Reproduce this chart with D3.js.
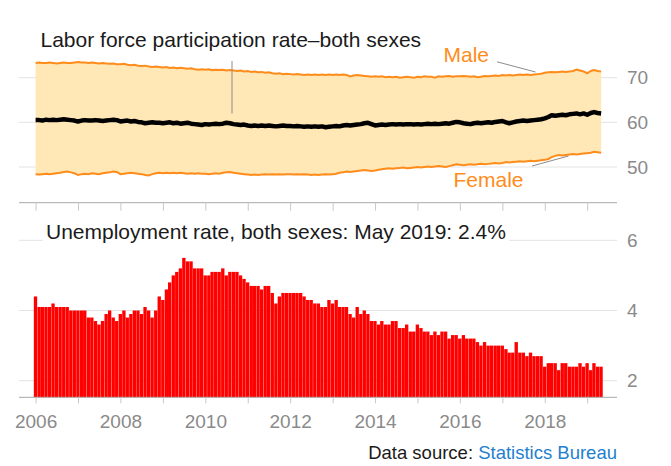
<!DOCTYPE html>
<html>
<head>
<meta charset="utf-8">
<script src="https://cdn.jsdelivr.net/npm/d3@7"></script>
<style>
body { margin: 0; background: #fff; }
svg { display: block; font-family: "Liberation Sans", Arial, sans-serif; }
</style>
</head>
<body>
<script>
//place script in anon function
(function(){

// monthly series, Jan 2006 - May 2019
var startMonth = new Date(2006, 0, 1),
    endMonth = new Date(2019, 5, 1);

// labor force participation rate, male (%)
var maleRate = [
    73.3, 73.4, 73.3, 73.3, 73.4, 73.3, 73.2, 73.3, 73.4, 73.3, 73.3, 73.4,
    73.5, 73.4, 73.4, 73.3, 73.4, 73.3, 73.2, 73.3, 73.2, 73.1, 73.2, 73.0,
    73.0, 73.1, 72.9, 72.8, 72.9, 72.7, 72.6, 72.7, 72.5, 72.4, 72.5, 72.4,
    72.3, 72.4, 72.2, 72.3, 72.1, 72.2, 72.1, 72.0, 72.1, 71.9, 71.8, 71.9,
    71.8, 71.9, 71.7, 71.8, 71.7, 71.8, 71.6, 71.7, 71.6, 71.5, 71.6, 71.4,
    71.5, 71.3, 71.4, 71.2, 71.3, 71.1, 71.2, 71.0, 70.9, 71.0, 70.8, 70.9,
    70.8, 70.7, 70.8, 70.7, 70.6, 70.7, 70.6, 70.7, 70.6, 70.7, 70.6, 70.7,
    70.6, 70.7, 70.6, 70.7, 70.6, 70.3, 70.5, 70.6, 70.5, 70.4, 70.3, 70.2,
    70.3, 70.2, 70.3, 70.1, 70.2, 70.1, 70.2, 70.0, 70.1, 70.2, 70.1, 70.0,
    70.2, 70.1, 70.3, 70.2, 70.2, 70.0, 70.3, 70.2, 70.3, 70.4, 70.2, 70.3,
    70.3, 70.4, 70.3, 70.2, 70.3, 70.1, 70.2, 70.4, 70.3, 70.4, 70.5, 70.4,
    70.6, 70.5, 70.6, 70.5, 70.6, 70.7, 70.6, 70.7, 70.6, 70.7, 70.8, 70.9,
    71.1, 71.2, 71.3, 71.2, 71.3, 71.4, 71.3, 71.4, 71.5, 71.8, 71.6, 71.4,
    71.0, 71.5, 71.7, 71.5, 71.4
];

// labor force participation rate, female (%)
var femaleRate = [
    48.4, 48.3, 48.4, 48.5, 48.4, 48.5, 48.6, 48.7, 48.9, 49.0, 48.8, 48.6,
    48.2, 48.4, 48.5, 48.4, 48.6, 48.5, 48.4, 48.6, 48.7, 48.8, 49.0, 48.9,
    48.4, 48.5, 48.6, 48.7, 48.6, 48.5, 48.4, 48.2, 48.1, 48.4, 48.6, 48.7,
    48.6, 48.7, 48.6, 48.7, 48.6, 48.7, 48.6, 48.5, 48.6, 48.5, 48.6, 48.5,
    48.5, 48.4, 48.5, 48.6, 48.5, 48.7, 48.8, 48.9, 48.7, 48.6, 48.5, 48.4,
    48.3, 48.2, 48.3, 48.2, 48.3, 48.4, 48.3, 48.4, 48.3, 48.4, 48.3, 48.4,
    48.4, 48.3, 48.4, 48.3, 48.4, 48.3, 48.2, 48.3, 48.2, 48.3, 48.4, 48.3,
    48.4, 48.5, 48.7, 48.8, 49.0, 48.9, 49.0, 49.1, 49.2, 49.3, 49.2, 49.1,
    49.2, 49.4, 49.5, 49.6, 49.7, 49.6, 49.7, 49.8, 49.9, 49.7, 49.8, 49.9,
    50.0, 49.9, 50.0, 50.1, 50.0, 50.1, 50.2, 50.1, 50.0, 50.2, 50.4, 50.6,
    50.5, 50.4, 50.5, 50.6, 50.5, 50.6, 50.7, 50.6, 50.7, 50.8, 50.9, 50.8,
    50.9, 51.1, 51.0, 51.1, 51.2, 51.3, 51.2, 51.3, 51.4, 51.3, 51.4, 51.5,
    51.6, 51.8, 52.2, 52.5, 52.7, 52.6, 52.7, 52.8, 52.9, 52.8, 52.9, 53.0,
    53.1, 53.2, 53.4, 53.3, 53.2
];

// labor force participation rate, both sexes (%)
var bothRate = [
    60.5, 60.5, 60.4, 60.6, 60.5, 60.6, 60.5, 60.6, 60.7, 60.6, 60.5, 60.4,
    60.2, 60.4, 60.5, 60.4, 60.4, 60.5, 60.4, 60.3, 60.4, 60.5, 60.6, 60.5,
    60.2, 60.3, 60.4, 60.2, 60.3, 60.1, 60.0, 59.8, 59.9, 60.0, 59.9, 59.9,
    59.8, 59.9, 60.0, 59.8, 59.9, 59.7, 59.8, 59.9, 59.7, 59.6, 59.5, 59.4,
    59.6, 59.5, 59.6, 59.7, 59.6, 59.7, 59.9, 59.8, 59.6, 59.5, 59.4, 59.5,
    59.3, 59.2, 59.3, 59.2, 59.3, 59.2, 59.3, 59.2, 59.1, 59.2, 59.3, 59.2,
    59.2, 59.1, 59.2, 59.1, 59.0, 59.1, 59.0, 59.1, 59.0, 59.1, 58.9, 59.0,
    59.1, 59.2, 59.1, 59.3, 59.4, 59.3, 59.4, 59.5, 59.6, 59.8, 59.9, 59.6,
    59.3, 59.4, 59.5, 59.4, 59.5, 59.6, 59.5, 59.6, 59.5, 59.6, 59.6, 59.5,
    59.6, 59.5, 59.6, 59.7, 59.6, 59.7, 59.6, 59.7, 59.8, 59.7, 59.9, 60.1,
    60.0, 59.8, 59.7, 59.6, 59.8, 59.9, 59.8, 59.9, 60.0, 59.9, 60.1, 60.2,
    60.3, 60.0, 59.8, 60.0, 60.2, 60.3, 60.4, 60.3, 60.4, 60.5, 60.6, 60.7,
    60.9, 61.2, 61.6, 61.5, 61.6, 61.7, 61.6, 61.8, 61.9, 62.0, 61.8, 62.0,
    61.7, 62.1, 62.3, 62.1, 62.0
];

// unemployment rate, both sexes (%)
var unempRate = [
    4.4, 4.1, 4.1, 4.1, 4.1, 4.2, 4.1, 4.1, 4.1, 4.1, 4.0, 4.0,
    4.0, 4.0, 4.0, 3.8, 3.8, 3.7, 3.6, 3.7, 3.9, 4.0, 3.8, 3.7,
    3.9, 4.0, 3.8, 3.9, 4.0, 4.0, 3.9, 4.1, 4.0, 3.8, 4.0, 4.4,
    4.3, 4.6, 4.8, 5.0, 5.1, 5.2, 5.5, 5.4, 5.4, 5.2, 5.2, 5.2,
    5.0, 5.0, 5.1, 5.1, 5.1, 5.2, 5.0, 5.1, 5.1, 5.1, 5.0, 4.9,
    4.8, 4.7, 4.7, 4.7, 4.6, 4.7, 4.7, 4.5, 4.2, 4.4, 4.5, 4.5,
    4.5, 4.5, 4.5, 4.5, 4.4, 4.3, 4.3, 4.2, 4.2, 4.1, 4.1, 4.3,
    4.2, 4.3, 4.1, 4.1, 4.1, 3.9, 3.8, 4.1, 3.9, 4.0, 3.9, 3.7,
    3.7, 3.6, 3.7, 3.6, 3.6, 3.7, 3.7, 3.5, 3.5, 3.6, 3.4, 3.4,
    3.6, 3.5, 3.4, 3.4, 3.3, 3.4, 3.3, 3.4, 3.4, 3.2, 3.3, 3.3,
    3.2, 3.3, 3.2, 3.2, 3.2, 3.1, 3.0, 3.1, 3.0, 3.0, 3.0, 3.0,
    3.0, 2.9, 2.8, 2.8, 3.1, 2.8, 2.8, 2.7, 2.8, 2.7, 2.7, 2.7,
    2.4, 2.5, 2.5, 2.5, 2.3, 2.5, 2.5, 2.4, 2.4, 2.4, 2.5, 2.4,
    2.5, 2.3, 2.5, 2.4, 2.4
];

// axis ticks
var yearTicks = d3.range(2006, 2020),
    yearLabels = [2006, 2008, 2010, 2012, 2014, 2016, 2018],
    lfprTicks = [50, 60, 70],
    unempTicks = [2, 4, 6];

// colours
var orange = "#ff8c1a",
    bandFill = "#ffe8b6",
    gridColor = "#e3e3e3",
    axisColor = "#a8a8a8",
    tickText = "#8a8a8a";

// frame dimensions
var width = 671,
    height = 466,
    plotLeft = 19,
    plotRight = 617,
    topAxisY = 202.7,
    botAxisY = 397.3;

var months = d3.timeMonth.range(startMonth, endMonth);

// join series to month dates
var lfpr = months.map(function(d, i){
    return {date: d, male: maleRate[i], female: femaleRate[i], both: bothRate[i]};
});
var unemp = months.map(function(d, i){
    return {date: d, value: unempRate[i]};
});

var svg = d3.select("body")
    .append("svg")
    .attr("width", width)
    .attr("height", height);

// scales
var x = d3.scaleTime()
    .domain([new Date(2006, 0, 1), new Date(2019, 0, 1)])
    .range([35.6, 587.2]);

var yTop = d3.scaleLinear()
    .domain([50, 70])
    .range([167, 77.7]);

var yBot = d3.scaleLinear()
    .domain([2, 6])
    .range([380.7, 240.3]);

var monthWidth = (x(new Date(2019, 0, 1)) - x(new Date(2006, 0, 1))) / 156;

// ---- top panel: labor force participation ----
svg.append("g")
    .selectAll("line")
    .data(lfprTicks)
    .enter()
    .append("line")
    .attr("x1", plotLeft)
    .attr("x2", plotRight)
    .attr("y1", function(d){ return yTop(d); })
    .attr("y2", function(d){ return yTop(d); })
    .attr("stroke", gridColor)
    .attr("stroke-width", 1);

svg.append("g")
    .selectAll("text")
    .data(lfprTicks)
    .enter()
    .append("text")
    .attr("x", 627)
    .attr("y", function(d){ return yTop(d); })
    .attr("dy", "0.35em")
    .attr("font-size", "19px")
    .attr("fill", tickText)
    .text(function(d){ return d; });

// band between male and female
var band = d3.area()
    .x(function(d){ return x(d.date); })
    .y0(function(d){ return yTop(d.female); })
    .y1(function(d){ return yTop(d.male); });

svg.append("path")
    .datum(lfpr)
    .attr("d", band)
    .attr("fill", bandFill);

function lineFor(key){
    return d3.line()
        .x(function(d){ return x(d.date); })
        .y(function(d){ return yTop(d[key]); });
}

svg.append("path")
    .datum(lfpr)
    .attr("d", lineFor("female"))
    .attr("fill", "none")
    .attr("stroke", orange)
    .attr("stroke-width", 2);

svg.append("path")
    .datum(lfpr)
    .attr("d", lineFor("male"))
    .attr("fill", "none")
    .attr("stroke", orange)
    .attr("stroke-width", 2);

svg.append("path")
    .datum(lfpr)
    .attr("d", lineFor("both"))
    .attr("fill", "none")
    .attr("stroke", "#000")
    .attr("stroke-width", 4.5)
    .attr("stroke-linejoin", "round");

// top x axis (ticks only)
svg.append("line")
    .attr("x1", plotLeft).attr("x2", plotRight)
    .attr("y1", topAxisY).attr("y2", topAxisY)
    .attr("stroke", axisColor);

var topAxis = svg.append("g")
    .attr("transform", "translate(0," + topAxisY + ")")
    .call(d3.axisBottom(x)
        .tickValues(yearTicks.map(function(y){ return new Date(y, 0, 1); }))
        .tickSize(8)
        .tickFormat(""));
topAxis.select(".domain").remove();
topAxis.selectAll("line").attr("stroke", "#c8c8c8");

// annotations
svg.append("text")
    .attr("x", 40.5)
    .attr("y", 47.3)
    .attr("font-size", "21px")
    .attr("fill", "#1a1a1a")
    .text("Labor force participation rate\u2013both sexes");

svg.append("line")
    .attr("x1", 232).attr("x2", 232)
    .attr("y1", 61).attr("y2", 113.5)
    .attr("stroke", "#8c8c8c")
    .attr("stroke-width", 1);

svg.append("text")
    .attr("x", 443.5)
    .attr("y", 61.7)
    .attr("font-size", "21px")
    .attr("fill", orange)
    .text("Male");

svg.append("line")
    .attr("x1", 497).attr("y1", 61.8)
    .attr("x2", 535.5).attr("y2", 72)
    .attr("stroke", "#8c8c8c");

svg.append("text")
    .attr("x", 453.5)
    .attr("y", 186.5)
    .attr("font-size", "21px")
    .attr("fill", orange)
    .text("Female");

svg.append("line")
    .attr("x1", 532).attr("y1", 166)
    .attr("x2", 568.5).attr("y2", 156)
    .attr("stroke", "#8c8c8c");

// ---- bottom panel: unemployment ----
svg.append("g")
    .selectAll("line")
    .data(unempTicks)
    .enter()
    .append("line")
    .attr("x1", plotLeft)
    .attr("x2", plotRight)
    .attr("y1", function(d){ return yBot(d); })
    .attr("y2", function(d){ return yBot(d); })
    .attr("stroke", gridColor)
    .attr("stroke-width", 1);

svg.append("g")
    .selectAll("text")
    .data(unempTicks)
    .enter()
    .append("text")
    .attr("x", 627)
    .attr("y", function(d){ return yBot(d); })
    .attr("dy", "0.35em")
    .attr("font-size", "19px")
    .attr("fill", tickText)
    .text(function(d){ return d; });

svg.append("g")
    .selectAll("rect")
    .data(unemp)
    .enter()
    .append("rect")
    .attr("x", function(d){ return x(d.date) - monthWidth / 2; })
    .attr("width", monthWidth - 0.2)
    .attr("y", function(d){ return yBot(d.value); })
    .attr("height", function(d){ return botAxisY - yBot(d.value); })
    .attr("fill", "#ff0000");

// title with white box over the gridline
var titleBox = svg.append("rect")
    .attr("fill", "#fff");

var unempTitle = svg.append("text")
    .attr("x", 46)
    .attr("y", 239.3)
    .attr("font-size", "21px")
    .attr("fill", "#1a1a1a")
    .text("Unemployment rate, both sexes: May 2019: 2.4%");

var tb = unempTitle.node().getBBox();
titleBox
    .attr("x", tb.x - 3)
    .attr("y", tb.y)
    .attr("width", tb.width + 6)
    .attr("height", tb.height + 2);

// bottom x axis
svg.append("line")
    .attr("x1", plotLeft).attr("x2", plotRight)
    .attr("y1", botAxisY).attr("y2", botAxisY)
    .attr("stroke", axisColor);

var botAxis = svg.append("g")
    .attr("transform", "translate(0," + botAxisY + ")")
    .call(d3.axisBottom(x)
        .tickValues(yearTicks.map(function(y){ return new Date(y, 0, 1); }))
        .tickSize(6)
        .tickPadding(11.5)
        .tickFormat(function(d){
            var yr = d.getFullYear();
            return yearLabels.indexOf(yr) > -1 ? yr : "";
        }));
botAxis.select(".domain").remove();
botAxis.selectAll("line").attr("stroke", "#c8c8c8");
botAxis.selectAll("text")
    .attr("font-size", "19px")
    .attr("font-family", "Liberation Sans, Arial, sans-serif")
    .attr("fill", tickText);

// data source
var source = svg.append("text")
    .attr("x", 617)
    .attr("y", 459)
    .attr("text-anchor", "end")
    .attr("font-size", "18.5px")
    .attr("fill", "#1a1a1a");
source.append("tspan").text("Data source: ");
source.append("tspan").attr("fill", "#1f7fd0").text("Statistics Bureau");

})();
</script>
</body>
</html>
